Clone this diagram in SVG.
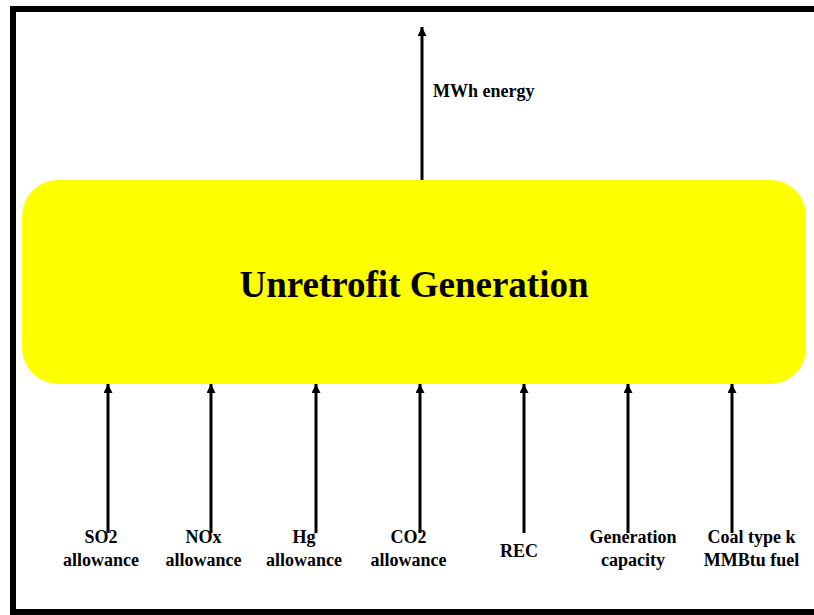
<svg xmlns="http://www.w3.org/2000/svg" width="814" height="615" viewBox="0 0 814 615">
  <defs>
    <marker id="head" viewBox="0 0 10 10" refX="10" refY="5" markerWidth="3" markerHeight="3" orient="auto" markerUnits="strokeWidth">
      <path d="M0,0 L10,5 L0,10 Z" fill="#000"/>
    </marker>
    <style>
      .lbl { font-family: "Liberation Serif", "Times New Roman", serif; font-weight: bold; font-size: 18px; fill: #000; }
      .title { font-family: "Liberation Serif", "Times New Roman", serif; font-weight: bold; font-size: 37px; fill: #000; }
      .flow { stroke: #000; stroke-width: 3; fill: none; marker-end: url(#head); }
    </style>
  </defs>
  <rect width="814" height="615" fill="#fff"/>
  <!-- page frame (right edge runs off the page) -->
  <rect x="13" y="9" width="820" height="603" fill="none" stroke="#000" stroke-width="6"/>

  <g id="unretrofit-generation">
    <rect x="22" y="180" width="784" height="204" rx="36" ry="36" fill="#ffff00"/>
    <text class="title" x="414" y="297" text-anchor="middle">Unretrofit Generation</text>
  </g>

  <g id="connectors">
    <line class="flow" x1="422" y1="180" x2="422" y2="27"/>
    <line class="flow" x1="108" y1="533" x2="108" y2="384"/>
    <line class="flow" x1="211" y1="533" x2="211" y2="384"/>
    <line class="flow" x1="316" y1="533" x2="316" y2="384"/>
    <line class="flow" x1="420" y1="533" x2="420" y2="384"/>
    <line class="flow" x1="524" y1="533" x2="524" y2="384"/>
    <line class="flow" x1="628" y1="533" x2="628" y2="384"/>
    <line class="flow" x1="732" y1="533" x2="732" y2="384"/>
  </g>

  <g id="mwh-energy">
    <text class="lbl" x="433" y="97">MWh energy</text>
  </g>
  <g id="so2-allowance">
    <text class="lbl" x="101" y="543" text-anchor="middle">SO2</text>
    <text class="lbl" x="101" y="566" text-anchor="middle">allowance</text>
  </g>
  <g id="nox-allowance">
    <text class="lbl" x="203.5" y="543" text-anchor="middle">NOx</text>
    <text class="lbl" x="203.5" y="566" text-anchor="middle">allowance</text>
  </g>
  <g id="hg-allowance">
    <text class="lbl" x="304" y="543" text-anchor="middle">Hg</text>
    <text class="lbl" x="304" y="566" text-anchor="middle">allowance</text>
  </g>
  <g id="co2-allowance">
    <text class="lbl" x="408.5" y="543" text-anchor="middle">CO2</text>
    <text class="lbl" x="408.5" y="566" text-anchor="middle">allowance</text>
  </g>
  <g id="rec">
    <text class="lbl" x="519" y="557" text-anchor="middle">REC</text>
  </g>
  <g id="generation-capacity">
    <text class="lbl" x="633" y="543" text-anchor="middle">Generation</text>
    <text class="lbl" x="633" y="566" text-anchor="middle">capacity</text>
  </g>
  <g id="coal-fuel">
    <text class="lbl" x="751.5" y="543" text-anchor="middle">Coal type k</text>
    <text class="lbl" x="751.5" y="566" text-anchor="middle">MMBtu fuel</text>
  </g>
</svg>
